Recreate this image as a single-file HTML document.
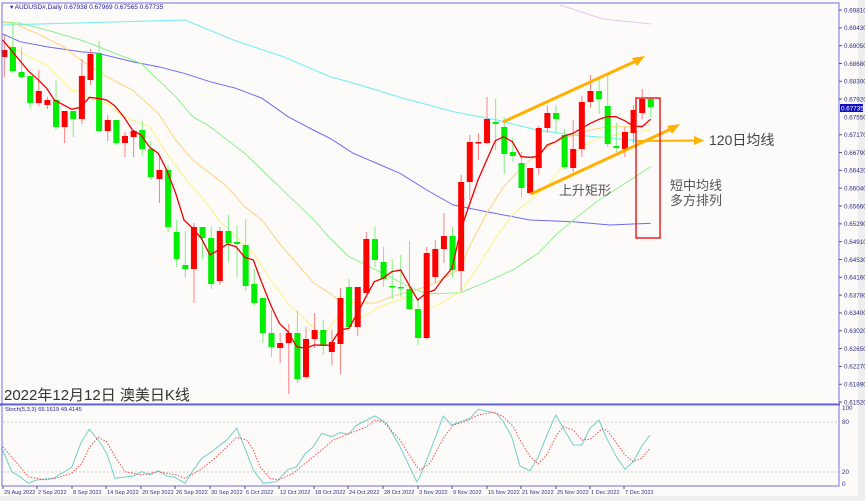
<!DOCTYPE html>
<html><head><meta charset="utf-8">
<style>
html,body{margin:0;padding:0;background:#fdfbfa;}
body{width:865px;height:501px;overflow:hidden;font-family:"Liberation Sans","Noto Sans CJK SC",sans-serif;}
</style></head>
<body>
<svg id="s" width="865" height="501" xmlns="http://www.w3.org/2000/svg" style="display:block">
<rect x="0" y="0" width="865" height="501" fill="#fdfbfa"/>
<rect x="858" y="0" width="7" height="501" fill="#eeeeee"/>
<rect x="0" y="496" width="865" height="5" fill="#eeeeee"/>
<g id="g"></g>
</svg>
<script>
const g=document.getElementById('g');let h='';
const P=(a,ox,oy)=>a.map(p=>(ox+p[0]/3).toFixed(1)+','+(oy+p[1]/3).toFixed(1)).join(' ');
function line(pts,c,w,extra){h+=`<polyline points="${pts}" fill="none" stroke="${c}" stroke-width="${w}" ${extra||''}/>`;}
line(P([[8,42],[60,65],[140,80],[242,95],[293,100],[397,125],[475,140],[552,160],[630,185],[708,205],[786,235],[864,290],[940,330],[990,355]],0,20)+' '+P([[100,400],[240,460],[320,510],[400,555],[500,575],[630,600],[760,605],[870,615],[992,610]],320,20),'#6b6bf0',1);
line('3,25 '+P([[555,0],[700,60],[850,110],[990,170]],0,20)+' '+P([[120,195],[250,235],[400,275],[530,300],[650,330],[760,345],[850,352],[950,362],[992,364]],320,20),'#7ff0f0',1.2);
line('560,5 603,19 651,24','#e6c8ee',1);
line(P([[8,5],[60,10],[140,30],[242,60],[320,90],[371,110],[423,130],[475,180],[527,230],[578,290],[630,320],[682,360],[734,400],[786,450],[838,500],[890,550],[942,600],[990,655]],0,20)+' '+P([[87,710],[189,760],[267,800],[320,822],[422,818],[500,785],[578,750],[655,700],[707,645],[760,600],[837,540],[900,500],[992,440]],320,20),'#8ef08e',1);
line(P([[8,8],[40,10],[110,40],[190,80],[242,120],[320,170],[397,210],[475,280],[527,360],[578,420],[630,460],[682,500],[734,560],[786,600],[838,670],[890,730],[942,790],[990,820]],0,20)+' '+P([[60,845],[163,850],[215,830],[293,808],[344,790],[396,760],[422,745],[448,680],[500,580],[551,500],[603,445],[655,400],[707,365],[760,345],[811,330],[862,320],[940,320],[992,315]],320,20),'#ffd27a',1);
line(P([[8,65],[87,110],[140,135],[215,210],[242,215],[268,235],[320,250],[371,290],[449,320],[500,400],[552,470],[604,530],[656,600],[708,650],[760,700],[812,780],[864,850],[916,900],[968,950]],0,20)+' '+P([[60,880],[112,900],[180,860],[250,835],[293,880],[344,860],[422,815],[474,740],[526,655],[577,585],[629,540],[681,500],[733,430],[785,380],[837,355],[914,340],[992,330]],320,20),'#fff27a',1);
const C=[[50,57,35,77,'r'],[47,71,22,73,'g'],[72,77,47,79,'g'],[76,103,76,109,'g'],[91,103,70,106,'r'],[100,105,97,109,'r'],[100,127,80,130,'g'],[111,127,111,143,'r'],[111,119,111,137,'g'],[76,119,59,124,'r'],[54,80,49,85,'r'],[53,131,41,131,'g'],[120,131,115,141,'r'],[120,143,120,145,'g'],[136,143,132,157,'r'],[131,137,131,157,'r'],[130,149,121,155,'g'],[149,177,141,180,'g'],[170,179,157,203,'r'],[170,227,165,232,'g'],[232,259,220,267,'g'],[265,269,231,278,'g'],[227,269,223,303,'r'],[227,238,227,259,'g'],[238,284,227,289,'g'],[231,281,227,285,'r'],[231,243,215,262,'g'],[242,244,225,277,'g'],[245,286,219,291,'g'],[284,303,269,306,'g'],[298,333,298,343,'g'],[333,347,310,357,'g'],[343,348,333,363,'r'],[333,343,324,394,'r'],[333,379,310,383,'g'],[339,377,327,379,'r'],[330,339,313,348,'r'],[330,346,320,355,'g'],
[342,352,330,365,'r'],[298,344,288,374,'r'],[287,327,279,330,'g'],[287,327,287,336,'r'],[239,293,232,293,'r'],[239,260,227,267,'g'],[262,279,247,287,'g'],[286,287,259,299,'g'],[287,288,255,297,'g'],[289,309,241,310,'g'],[309,338,300,345,'g'],[253,338,247,339,'r'],[249,277,240,283,'r'],[236,249,213,263,'r'],[236,270,227,277,'g'],[182,271,175,291,'r'],[142,182,135,200,'r'],[142,143,133,160,'r'],[119,143,97,144,'r'],[122,124,99,150,'g'],[127,154,117,174,'g'],[152,156,138,162,'g'],[163,188,152,197,'g'],[168,193,168,194,'r'],[128,168,126,175,'r'],[113,128,106,133,'r'],[113,119,105,133,'g'],[135,167,129,169,'g'],[149,168,120,172,'r'],[102,149,96,157,'r'],[91,102,75,108,'r'],[91,99,79,114,'g'],[106,144,75,147,'g'],[146,148,123,152,'g'],[132,149,127,157,'r'],[110,133,105,143,'r'],[99,113,89,119,'r'],[99,107,97,117,'g']];
C.forEach((c,i)=>{const x=4.3+8.62*i;const col=c[4]=='r'?'#ff0000':'#00ee00';const wc=c[4]=='r'?'#ff8080':'#80ee80';
h+=`<line x1="${x}" y1="${c[2]}" x2="${x}" y2="${c[3]}" stroke="${wc}" stroke-width="1"/>`;
h+=`<rect x="${x-3}" y="${c[0]}" width="6" height="${Math.max(1.5,c[1]-c[0])}" fill="${col}"/>`;});
line(P([[8,60],[87,155],[110,175],[140,205],[163,240],[215,268],[242,262],[268,232],[300,236],[320,240],[345,258],[371,290],[397,330],[423,345],[449,382],[475,400],[500,450],[527,520],[552,600],[578,625],[604,655],[630,705],[656,690],[682,672],[708,680],[734,712],[760,720],[786,790],[812,855],[838,910],[864,935],[890,980],[916,985],[942,975],[990,976]],0,20)+' '+P([[60,930],[87,925],[112,880],[138,830],[163,785],[189,775],[215,755],[242,750],[267,795],[293,840],[318,820],[344,810],[370,775],[396,745],[422,630],[448,555],[474,480],[500,420],[526,362],[551,350],[577,365],[603,410],[629,412],[655,410],[681,375],[707,365],[733,348],[759,340],[785,325],[811,310],[837,298],[862,290],[888,290],[914,302],[940,318],[966,320],[992,298]],320,20),'#ee0000',1.3);
h+=`<line x1="503" y1="122" x2="636" y2="61" stroke="#ffb000" stroke-width="3"/><polygon points="645,56 632,58 637,66" fill="#ffb000"/>`;
h+=`<line x1="531" y1="194" x2="671" y2="129" stroke="#ffb000" stroke-width="3"/><polygon points="680,124 667,126 672,134" fill="#ffb000"/>`;
h+=`<line x1="637" y1="141" x2="695" y2="140.5" stroke="#ffb000" stroke-width="2"/><polygon points="704,140.5 694,136 694,145" fill="#ffb000"/>`;
h+=`<rect x="636" y="98" width="24" height="140" fill="none" stroke="#ee2020" stroke-width="1.5"/>`;
h+=`<text x="709" y="145" font-size="14" fill="#444">120日均线</text>`;
h+=`<text x="559" y="195" font-size="13" fill="#555">上升矩形</text>`;
h+=`<text x="670" y="190" font-size="13" fill="#555">短中均线</text>`;
h+=`<text x="670" y="205" font-size="13" fill="#555">多方排列</text>`;
h+=`<text x="4" y="400" font-size="15" fill="#333">2022年12月12日 澳美日K线</text>`;
h+=`<text x="10" y="9" font-size="6.5" fill="#2020a0">▾ AUDUSD#,Daily  0.67938 0.67969 0.67565 0.67735</text>`;
h+=`<rect x="2" y="3" width="837" height="401" fill="none" stroke="#7070e0" stroke-width="1"/>`;
h+=`<line x1="0" y1="404.5" x2="840" y2="404.5" stroke="#5050d0" stroke-width="2"/>`;
h+=`<rect x="2" y="405" width="837" height="81" fill="none" stroke="#7070e0" stroke-width="1"/>`;
const pv=['0.69810','0.69430','0.69050','0.68680','0.68300','0.67920','0.67550','0.67170','0.66790','0.66420','0.66040','0.65660','0.65290','0.64910','0.64530','0.64160','0.63780','0.63400','0.63020','0.62650','0.62270','0.61890','0.61520'];
pv.forEach((v,i)=>{const y=10+i*17.82;if(i==6)return;h+=`<line x1="839" y1="${y}" x2="842" y2="${y}" stroke="#555"/><text x="844" y="${y+2.3}" font-size="6.3" fill="#303080">${v}</text>`;});
h+=`<text x="844" y="119.3" font-size="6.3" fill="#303080">0.67550</text>`;
h+=`<rect x="840" y="104" width="23" height="8" fill="#1010c0"/><text x="841" y="110.3" font-size="6.3" fill="#fff">0.67735</text>`;
h+=`<line x1="3" y1="422" x2="839" y2="422" stroke="#c8c8c8" stroke-dasharray="2,2"/><line x1="3" y1="472" x2="839" y2="472" stroke="#c8c8c8" stroke-dasharray="2,2"/>`;
[['100',410],['80',424],['20',474],['0',486]].forEach(a=>h+=`<text x="842" y="${a[1]}" font-size="6.3" fill="#303080">${a[0]}</text>`);
h+=`<text x="5" y="411" font-size="5.8" fill="#2020a0">Stoch(5,3,3) 65.1619 49.4145</text>`;
line(P([[8,210],[35,275],[60,290],[85,310],[110,300],[160,295],[215,262],[242,190],[268,148],[295,180],[320,220],[345,295],[400,288],[425,275],[450,285],[475,272],[500,288],[525,292],[555,310],[580,270],[605,235],[635,215],[680,180],[710,145],[735,205],[760,270],[790,310],[830,305],[865,268],[890,260],[915,222],[940,200],[965,160],[995,170],[1020,158],[1045,163],[1070,135],[1100,120],[1125,108],[1160,130],[1200,200],[1250,305]],0,380)+' '+P([[0,290],[30,215],[70,108],[95,135],[150,115],[175,88],[230,100],[250,125],[275,170],[300,258],[330,272],[355,230],[385,155],[407,105],[430,145],[460,195],[485,195],[510,145],[537,120],[560,175],[590,232],[615,268],[640,245],[665,198],[690,165]],420,380),'#6fd0c8',1);
line(P([[8,200],[60,260],[85,290],[135,300],[165,295],[215,280],[245,250],[270,200],[295,172],[320,185],[345,230],[375,275],[425,285],[475,275],[530,285],[555,295],[600,270],[650,230],[710,172],[740,180],[760,210],[780,260],[810,295],[835,300],[880,280],[915,250],[965,210],[1000,180],[1045,162],[1100,140],[1125,120],[1150,125],[1200,180],[1250,260]],0,380)+' '+P([[0,270],[30,250],[70,175],[100,135],[135,125],[175,105],[220,97],[250,110],[280,140],[300,180],[330,230],[355,252],[380,225],[410,165],[430,140],[460,150],[485,180],[510,178],[545,148],[560,150],[590,190],[615,225],[640,245],[665,235],[690,205]],420,380),'#f05050',1,'stroke-dasharray="1.5,1.5"');
const D=[['29 Aug 2022',3],['2 Sep 2022',37],['8 Sep 2022',72],['14 Sep 2022',106],['20 Sep 2022',141],['26 Sep 2022',175],['30 Sep 2022',210],['6 Oct 2022',245],['12 Oct 2022',279],['18 Oct 2022',314],['24 Oct 2022',348],['28 Oct 2022',383],['3 Nov 2022',418],['9 Nov 2022',452],['15 Nov 2022',487],['21 Nov 2022',521],['25 Nov 2022',556],['1 Dec 2022',590],['7 Dec 2022',624]];
D.forEach(d=>h+=`<line x1="${d[1]}" y1="486" x2="${d[1]}" y2="489" stroke="#555"/><text x="${d[1]+1}" y="494" font-size="5.6" fill="#303080">${d[0]}</text>`);
g.innerHTML=h;
</script>
</body></html>
